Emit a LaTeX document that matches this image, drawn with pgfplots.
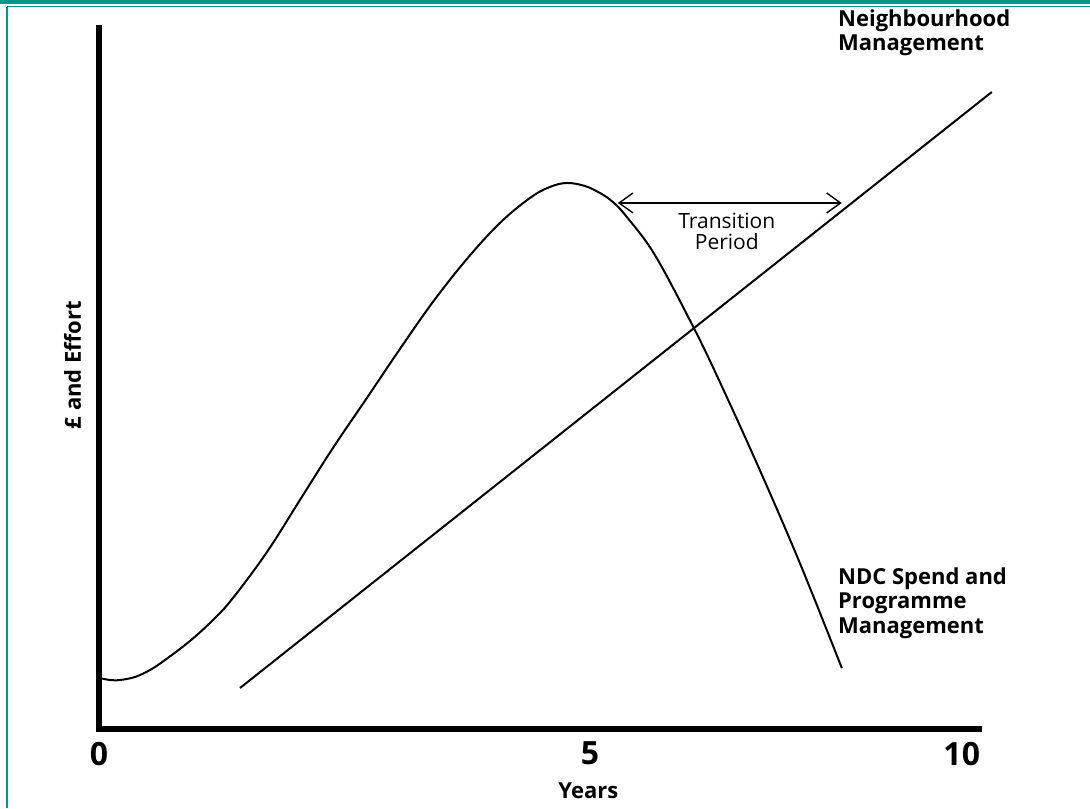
\documentclass[border=0pt]{standalone}
\usepackage{fontspec}
\setmainfont{Open Sans}
\setsansfont{Open Sans}
\usepackage{pgfplots}
\pgfplotsset{compat=1.18}
\usetikzlibrary{arrows.meta}
\definecolor{frameteal}{RGB}{0,150,140}
\begin{document}
\begin{tikzpicture}
\path[use as bounding box] (-49.5pt,-39.5pt) rectangle (495.5pt,364.5pt);
\begin{axis}[
  scale only axis, width=440pt, height=352pt,
  xmin=0, xmax=10.2, ymin=0, ymax=10,
  axis lines=left,
  axis line style={-, line width=3pt},
  x axis line style={line cap=rect},
  y axis line style={line cap=butt},
  xtick={0,5.69,10}, xticklabels={0,5,10},
  ytick=\empty,
  major tick length=0pt,
  xticklabel style={font=\fontsize{16}{16}\selectfont\bfseries, yshift=-3pt},
  /pgf/number format/assume math mode=true,
  xlabel={Years},
  xlabel style={at={(axis description cs:0.556,-0.087)}, anchor=center, font=\fontsize{11}{11}\selectfont\bfseries},
  ylabel={\pounds{} and Effort},
  ylabel style={at={(axis description cs:-0.03,0.517)}, anchor=center, font=\fontsize{11}{11}\selectfont\bfseries},
  clip=false,
]
% NDC Spend and Programme Management
\addplot[black, line width=1pt, smooth, tension=0.6] coordinates {
 (0.012,0.724) (0.127,0.696) (0.243,0.696) (0.417,0.739) (0.591,0.838) (0.765,0.980)
 (1.054,1.250) (1.321,1.548) (1.553,1.861) (1.947,2.514) (2.329,3.253) (2.711,3.991)
 (3.105,4.702) (3.488,5.398) (3.870,6.065) (4.264,6.676) (4.647,7.188) (4.995,7.543)
 (5.226,7.699) (5.423,7.756) (5.632,7.713) (5.806,7.614) (5.956,7.486) (6.118,7.273)
 (6.443,6.733) (6.883,5.724) (7.196,4.929) (7.659,3.679) (8.123,2.358) (8.610,0.866)
};
% Neighbourhood Management
\addplot[black, line width=1pt] coordinates {(1.634,0.582) (10.348,9.048)};
\draw[{Straight Barb[length=7pt,width=10pt]}-{Straight Barb[length=7pt,width=10pt]}, line width=0.7pt] (axis cs:6.014,7.472) -- (axis cs:8.610,7.472);
\node[align=center, font=\fontsize{10.5}{10.5}\selectfont] at (axis cs:7.277,7.074) {Transition\\Period};
\node[align=left, anchor=north west, inner sep=0pt, font=\fontsize{11}{12.25}\selectfont\bfseries] at (axis cs:8.563,10.227) {Neighbourhood\\Management};
\node[align=left, anchor=north west, inner sep=0pt, font=\fontsize{11}{12.25}\selectfont\bfseries] at (axis cs:8.563,2.301) {NDC Spend and\\Programme\\Management};
\end{axis}
\fill[frameteal] (-49.5pt,362.3pt) rectangle (495.5pt,364.5pt);
\draw[frameteal, line width=0.6pt] (-46pt,361.1pt) -- (495.5pt,361.1pt);
\draw[frameteal, line width=0.6pt] (-46pt,361.1pt) -- (-46pt,-39.5pt);
\end{tikzpicture}
\end{document}
